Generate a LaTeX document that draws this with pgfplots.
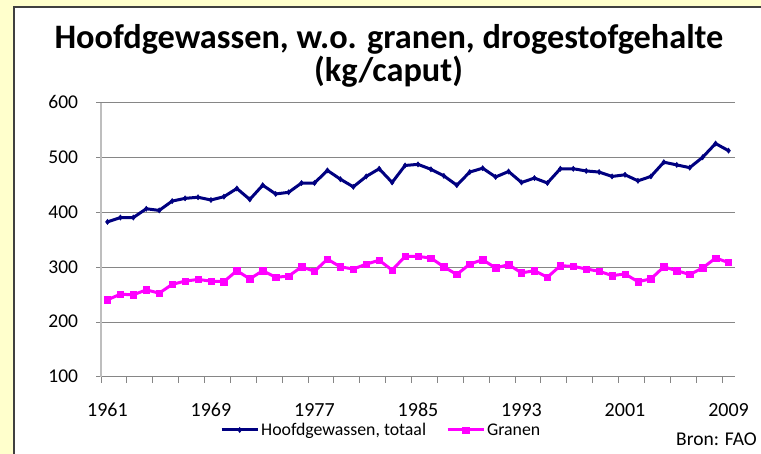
\documentclass[border=0pt]{standalone}
\usepackage{fontspec}
\setmainfont{Carlito}
\usepackage{pgfplots}
\pgfplotsset{compat=1.18}
\definecolor{bgyellow}{HTML}{FFFFCC}
\definecolor{framegray}{HTML}{404040}
\definecolor{gridgray}{HTML}{868686}
\definecolor{axisgray}{HTML}{BEBEBE}
\definecolor{navyline}{HTML}{000080}
\definecolor{magline}{HTML}{FF00FF}
\begin{document}
\begin{tikzpicture}[x=1pt,y=1pt]
\path[use as bounding box] (0,0) rectangle (761,454);
\fill[bgyellow] (0,0) rectangle (761,454);
\fill[white] (14,0) rectangle (761,447);
\draw[framegray,line width=1.2pt] (14,0) -- (14,447) -- (761,447);
\node[anchor=base,inner sep=0pt,font=\fontsize{34.3}{36}\selectfont\bfseries] at (389,405) {Hoofdgewassen, w.o. granen, drogestofgehalte};
\node[anchor=base,inner sep=0pt,font=\fontsize{34.3}{36}\selectfont\bfseries] at (388.5,372) {(kg/caput)};
\begin{axis}[
  at={(101pt,77pt)}, anchor=south west,
  scale only axis, width=634pt, height=274pt,
  xmin=1960.5, xmax=2009.5, ymin=100, ymax=600,
  axis x line*=bottom, axis y line*=left,
  x axis line style={draw=gridgray,line width=1pt,-},
  y axis line style={draw=axisgray,line width=2pt,-},
  xtick={1961,1969,1977,1985,1993,2001,2009},
  minor xtick={1960.5,1962.5,...,2008.5},
  ytick={100,200,300,400,500,600},
  ymajorgrids=true,
  grid style={draw=gridgray,line width=1pt},
  tick align=outside,
  major tick length=5pt, minor tick length=6pt,
  tick style={draw=gridgray,line width=1pt},
  major x tick style={draw=none},
  /pgf/number format/assume math mode=true,
  /pgf/number format/1000 sep={},
  xticklabel style={anchor=base,inner sep=0pt,yshift=-35pt,font=\fontsize{20}{22}\selectfont},
  yticklabel style={anchor=base east,inner sep=0pt,xshift=-17.7pt,yshift=-5.8pt,font=\fontsize{19.5}{22}\selectfont},
  legend columns=2,
  legend style={at={(axis description cs:0.1877,-0.1934)},anchor=west,draw=none,fill=none,inner sep=0pt,
    font=\fontsize{17.8}{20}\selectfont,
    /tikz/every even column/.append style={column sep=18pt}},
  legend image code/.code={\draw[mark repeat=2,mark phase=2,#1] plot coordinates {(0pt,0pt) (18pt,0pt) (36pt,0pt)};},
]
\addplot[navyline,line width=3pt,mark=diamond*,mark size=2.6pt,mark options={solid,line width=0.5pt}] coordinates {
(1961,383)(1962,391)(1963,391)(1964,407)(1965,404)(1966,421)(1967,426)(1968,428)(1969,423)(1970,429)
(1971,444)(1972,424)(1973,450)(1974,434)(1975,437)(1976,454)(1977,454)(1978,477)(1979,461)(1980,447)
(1981,466)(1982,480)(1983,455)(1984,486)(1985,488)(1986,479)(1987,467)(1988,450)(1989,474)(1990,481)
(1991,465)(1992,475)(1993,455)(1994,463)(1995,454)(1996,480)(1997,480)(1998,476)(1999,474)(2000,466)
(2001,469)(2002,458)(2003,466)(2004,492)(2005,487)(2006,482)(2007,501)(2008,526)(2009,513)};
\addlegendentry{Hoofdgewassen, totaal}
\addplot[magline,line width=3pt,mark=square*,mark size=3.2pt,mark options={solid,line width=0.5pt}] coordinates {
(1961,241)(1962,251)(1963,250)(1964,259)(1965,253)(1966,269)(1967,275)(1968,278)(1969,275)(1970,274)
(1971,294)(1972,279)(1973,294)(1974,282)(1975,284)(1976,301)(1977,293)(1978,315)(1979,301)(1980,297)
(1981,306)(1982,313)(1983,295)(1984,320)(1985,320)(1986,317)(1987,301)(1988,287)(1989,306)(1990,314)
(1991,299)(1992,305)(1993,290)(1994,294)(1995,282)(1996,303)(1997,302)(1998,297)(1999,293)(2000,285)
(2001,288)(2002,274)(2003,279)(2004,301)(2005,294)(2006,287)(2007,299)(2008,317)(2009,309)};
\addlegendentry{Granen}
\end{axis}
\node[anchor=base west,inner sep=0pt,font=\fontsize{19.5}{22}\selectfont] at (676,8) {Bron: FAO};
\end{tikzpicture}
\end{document}
